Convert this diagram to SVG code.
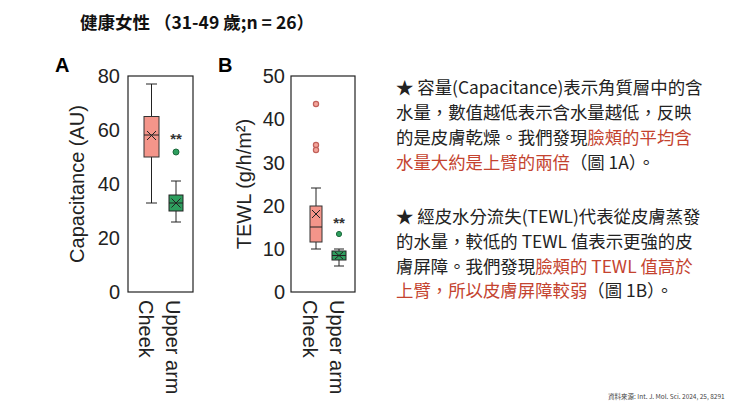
<svg xmlns="http://www.w3.org/2000/svg" width="740" height="416" viewBox="0 0 740 416">
<style>
.t{font-family:"Noto Sans CJK TC","Noto Sans",sans-serif;font-size:17.4px;fill:#222}
.r{fill:#c4432f}
.ax{font-family:"Liberation Sans",Arial,sans-serif;font-size:20px;fill:#222}
.frame{fill:none;stroke:#222;stroke-width:1.2}
.ln{stroke:#222;stroke-width:1;fill:none}
.ck{fill:#f4958a;stroke:#333;stroke-width:1}
.ua{fill:#2e9e5e;stroke:#222;stroke-width:1}
.oc{fill:#f4a49a;stroke:#c0605a;stroke-width:1.2}
.og{fill:#2e9e5e;stroke:#1c6a3c;stroke-width:1}
</style>
<rect width="740" height="416" fill="#fff"/>
<text x="80" y="29" font-family="Noto Sans CJK TC,sans-serif" font-size="17.5" font-weight="bold" fill="#111">健康女性 （31-49 歲;n = 26）</text>
<g id="panelA">
<text x="55" y="72" font-family="Liberation Sans,Arial,sans-serif" font-size="20" font-weight="bold">A</text>
<rect class="frame" x="128" y="76" width="65" height="216"/>
<g class="ax" text-anchor="end"><text x="120" y="83">80</text><text x="120" y="137">60</text><text x="120" y="191">40</text><text x="120" y="245">20</text><text x="120" y="299">0</text></g>
<text class="ax" transform="translate(84,184) rotate(-90)" text-anchor="middle">Capacitance (AU)</text>
<path class="ln" d="M151.5 84V116.5M151.5 157V203M146 84H157M146 203H157"/>
<rect class="ck" x="144" y="116.5" width="15" height="40.5"/>
<path class="ln" d="M144 135H159M147 131L156 140M156 131L147 140"/>
<path class="ln" d="M176 181V195M176 211V222M171 181H181M171 222H181"/>
<rect class="ua" x="169" y="195" width="14" height="16"/>
<path class="ln" d="M169 203H183M171.5 198.5L180.5 207.5M180.5 198.5L171.5 207.5"/>
<circle class="og" cx="176" cy="152" r="3"/>
<text x="176" y="144" text-anchor="middle" font-family="Liberation Sans,Arial,sans-serif" font-size="15" font-weight="bold" fill="#333">**</text>
<text class="ax" transform="translate(139,300) rotate(90)">Cheek</text>
<text class="ax" transform="translate(166,300) rotate(90)">Upper arm</text>
</g>
<g id="panelB">
<text x="218" y="72" font-family="Liberation Sans,Arial,sans-serif" font-size="20" font-weight="bold">B</text>
<rect class="frame" x="291" y="76" width="64" height="216"/>
<g class="ax" text-anchor="end"><text x="285" y="83">50</text><text x="285" y="126">40</text><text x="285" y="170">30</text><text x="285" y="213">20</text><text x="285" y="256">10</text><text x="285" y="299">0</text></g>
<text class="ax" transform="translate(251,184) rotate(-90)" text-anchor="middle">TEWL (g/h/m²)</text>
<path class="ln" d="M316 188V206M316 242V249M311 188H321M311 249H321"/>
<rect class="ck" x="310" y="206" width="12" height="36"/>
<path class="ln" d="M310 227H322" stroke="#d77"/>
<path class="ln" d="M312 210L320 218M320 210L312 218"/>
<circle class="oc" cx="316" cy="104" r="2.6"/>
<circle class="oc" cx="316" cy="145" r="2.6"/>
<circle class="oc" cx="316" cy="150" r="2.6"/>
<path class="ln" d="M339 249V251M339 260V266M334 249H344M334 266H344"/>
<rect class="ua" x="332" y="251" width="14" height="9"/>
<path class="ln" d="M332 255.5H346M335 252L343 259M343 252L335 259"/>
<circle class="og" cx="339" cy="234" r="2.6"/>
<text x="339" y="228" text-anchor="middle" font-family="Liberation Sans,Arial,sans-serif" font-size="15" font-weight="bold" fill="#333">**</text>
<text class="ax" transform="translate(303,300) rotate(90)">Cheek</text>
<text class="ax" transform="translate(330,300) rotate(90)">Upper arm</text>
</g>
<g id="text">
<text class="t" x="396" y="94">★ 容量(Capacitance)表示角質層中的含</text>
<text class="t" x="396" y="119">水量，數值越低表示含水量越低，反映</text>
<text class="t" x="396" y="144">的是皮膚乾燥。我們發現<tspan class="r">臉頰的平均含</tspan></text>
<text class="t" x="396" y="169"><tspan class="r">水量大約是上臂的兩倍</tspan>（圖 1A）。</text>
<text class="t" x="396" y="223">★ 經皮水分流失(TEWL)代表從皮膚蒸發</text>
<text class="t" x="396" y="248">的水量，較低的 TEWL 值表示更強的皮</text>
<text class="t" x="396" y="273">膚屏障。我們發現<tspan class="r">臉頰的 TEWL 值高於</tspan></text>
<text class="t" x="396" y="297"><tspan class="r">上臂，所以皮膚屏障較弱</tspan>（圖 1B）。</text>
<text x="608" y="399" font-family="Noto Sans CJK TC,sans-serif" font-size="6.5" fill="#444">資料來源: Int. J. Mol. Sci. 2024, 25, 8291</text>
</g>
</svg>
